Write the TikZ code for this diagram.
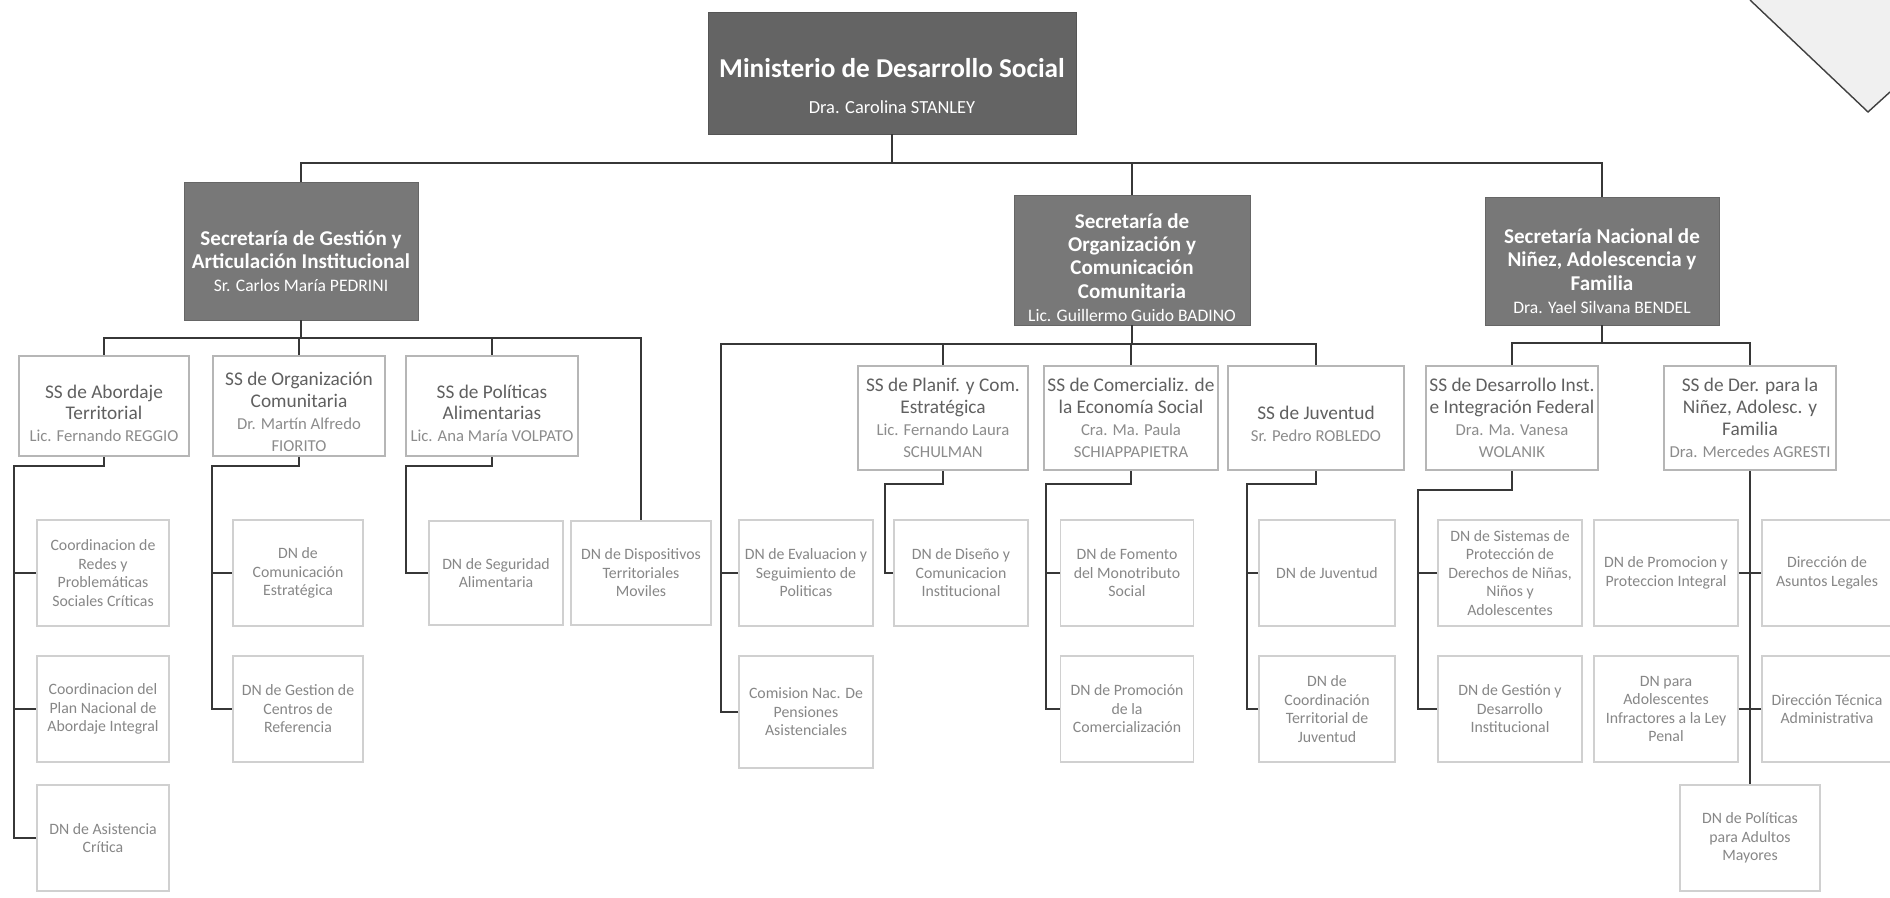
\documentclass[tikz,border=0pt]{standalone}
\usepackage{fontspec}
\setmainfont{Carlito}

\definecolor{minfill}{RGB}{100,100,100}
\definecolor{secfill}{RGB}{120,120,120}
\definecolor{ssline}{RGB}{182,182,182}
\definecolor{dnline}{RGB}{208,208,208}
\definecolor{sstext}{RGB}{96,96,96}
\definecolor{nametext}{RGB}{140,140,140}
\definecolor{dntext}{RGB}{135,135,135}
\definecolor{linkgray}{RGB}{55,55,55}

\newcommand{\cargo}[1]{{\fontsize{9.5}{12}\selectfont\color{nametext}#1}}
\newcommand{\secname}[1]{{\fontsize{10}{13}\selectfont\mdseries #1}}
\newcommand{\bajar}[1]{\rule{0pt}{#1}}

\tikzset{
  wh/.style 2 args={minimum width=#1*0.02cm, minimum height=#2*0.02cm},
  minbox/.style={rectangle, fill=minfill, draw=minfill!85!black, text=white, align=center, inner sep=1pt, font=\fontsize{15.5}{20.5}\selectfont\bfseries},
  secbox/.style={rectangle, fill=secfill, draw=secfill!85!black, text=white, align=center, inner sep=1pt, font=\fontsize{12}{13.2}\selectfont\bfseries},
  ssbox/.style={rectangle, draw=ssline, line width=1.4pt, fill=white, text=sstext, align=center, inner sep=1pt, font=\fontsize{11}{12.5}\selectfont},
  dnbox/.style={rectangle, draw=dnline, line width=0.8pt, fill=white, text=dntext, align=center, inner sep=1pt, font=\fontsize{9}{10.5}\selectfont},
  link/.style={draw=linkgray, line width=0.8pt},
}

\begin{document}
\begin{tikzpicture}[x=0.02cm, y=-0.02cm]%
\useasboundingbox (0,0) rectangle (1890,898);%
\fill[black!6] (1750,0) -- (1868,112) -- (1890,92) -- (1890,0) -- cycle;%
\draw[black!75, line width=0.8pt] (1750,0) -- (1868,112) -- (1890,92);%
\node[minbox, wh={368}{122}] (min) at (892,73) {\bajar{26pt}Ministerio de Desarrollo Social\\{\fontsize{10.5}{13}\selectfont\mdseries Dra. Carolina STANLEY}};%
\node[secbox, wh={234}{138}] (sga) at (301,251) {\bajar{20pt}Secretaría de Gestión y\\Articulación Institucional\\\secname{Sr. Carlos María PEDRINI}};%
\node[secbox, wh={236}{130}] (soc) at (1132,260) {\bajar{17pt}Secretaría de\\Organización y\\Comunicación\\Comunitaria\\\secname{Lic. Guillermo Guido BADINO}};%
\node[secbox, wh={234}{128}] (snf) at (1602,261) {\bajar{20pt}Secretaría Nacional de\\Niñez, Adolescencia y\\Familia\\\secname{Dra. Yael Silvana BENDEL}};%
\node[ssbox, wh={170}{100}] (a1) at (104,406) {\bajar{16pt}SS de Abordaje\\Territorial\\\cargo{Lic. Fernando REGGIO}};%
\node[ssbox, wh={172}{100}] (a2) at (299,406) {\bajar{14pt}SS de Organización\\Comunitaria\\\cargo{Dr. Martín Alfredo}\\\cargo{FIORITO}};%
\node[ssbox, wh={172}{100}] (a3) at (492,406) {\bajar{16pt}SS de Políticas\\Alimentarias\\\cargo{Lic. Ana María VOLPATO}};%
\node[dnbox, wh={140}{104}] (a4) at (641,573) {DN de Dispositivos\\Territoriales\\Moviles};%
\node[dnbox, wh={132}{106}] (a1a) at (103,573) {Coordinacion de\\Redes y\\Problemáticas\\Sociales Críticas};%
\node[dnbox, wh={132}{106}] (a1b) at (103,709) {Coordinacion del\\Plan Nacional de\\Abordaje Integral};%
\node[dnbox, wh={132}{106}] (a1c) at (103,838) {DN de Asistencia\\Crítica};%
\node[dnbox, wh={130}{106}] (a2a) at (298,573) {DN de\\Comunicación\\Estratégica};%
\node[dnbox, wh={130}{106}] (a2b) at (298,709) {DN de Gestion de\\Centros de\\Referencia};%
\node[dnbox, wh={134}{104}] (a3a) at (496,573) {DN de Seguridad\\Alimentaria};%
\node[ssbox, wh={170}{104}] (b1) at (943,418) {SS de Planif. y Com.\\Estratégica\\\cargo{Lic. Fernando Laura}\\\cargo{SCHULMAN}};%
\node[ssbox, wh={174}{104}] (b2) at (1131,418) {SS de Comercializ. de\\la Economía Social\\\cargo{Cra. Ma. Paula}\\\cargo{SCHIAPPAPIETRA}};%
\node[ssbox, wh={176}{104}] (b3) at (1316,418) {\bajar{14pt}SS de Juventud\\\cargo{Sr. Pedro ROBLEDO}};%
\node[dnbox, wh={134}{106}] (b0a) at (806,573) {DN de Evaluacion y\\Seguimiento de\\Politicas};%
\node[dnbox, wh={134}{112}] (b0b) at (806,712) {Comision Nac. De\\Pensiones\\Asistenciales};%
\node[dnbox, wh={134}{106}] (b1a) at (961,573) {DN de Diseño y\\Comunicacion\\Institucional};%
\node[dnbox, wh={133}{106}] (b2a) at (1127,573) {DN de Fomento\\del Monotributo\\Social};%
\node[dnbox, wh={133}{106}] (b2b) at (1127,709) {DN de Promoción\\de la\\Comercialización};%
\node[dnbox, wh={136}{106}] (b3a) at (1327,573) {DN de Juventud};%
\node[dnbox, wh={136}{106}] (b3b) at (1327,709) {DN de\\Coordinación\\Territorial de\\Juventud};%
\node[ssbox, wh={172}{104}] (c1) at (1512,418) {SS de Desarrollo Inst.\\e Integración Federal\\\cargo{Dra. Ma. Vanesa}\\\cargo{WOLANIK}};%
\node[ssbox, wh={172}{104}] (c2) at (1750,418) {SS de Der. para la\\Niñez, Adolesc. y\\Familia\\\cargo{Dra. Mercedes AGRESTI}};%
\node[dnbox, wh={144}{106}] (c1a) at (1510,573) {DN de Sistemas de\\Protección de\\Derechos de Niñas,\\Niños y\\Adolescentes};%
\node[dnbox, wh={144}{106}] (c1b) at (1510,709) {DN de Gestión y\\Desarrollo\\Institucional};%
\node[dnbox, wh={144}{106}] (c2a) at (1666,573) {DN de Promocion y\\Proteccion Integral};%
\node[dnbox, wh={144}{106}] (c2b) at (1666,709) {DN para\\Adolescentes\\Infractores a la Ley\\Penal};%
\node[dnbox, wh={130}{106}] (c2c) at (1827,573) {Dirección de\\Asuntos Legales};%
\node[dnbox, wh={130}{106}] (c2d) at (1827,709) {Dirección Técnica\\Administrativa};%
\node[dnbox, wh={140}{106}] (c2e) at (1750,838) {DN de Políticas\\para Adultos\\Mayores};%
\coordinate (top) at (892,163);%
\draw[link] (min.south) -- (top);%
\draw[link] (sga.north) |- (top) -| (snf.north);%
\draw[link] (soc.north) -- (soc.north |- top);%
\coordinate (bA) at (301,338);%
\draw[link] (sga.south) -- (bA);%
\draw[link] (a1.north) |- (bA) -| (a4.north);%
\draw[link] (a2.north) -- (a2.north |- bA);%
\draw[link] (a3.north) -- (a3.north |- bA);%
\coordinate (a1k) at (14,466);%
\draw[link] (a1.south) |- (a1k) |- (a1c.west);%
\draw[link] (a1k) |- (a1a.west);%
\draw[link] (a1k) |- (a1b.west);%
\coordinate (a2k) at (212,466);%
\draw[link] (a2.south) |- (a2k) |- (a2b.west);%
\draw[link] (a2k) |- (a2a.west);%
\coordinate (a3k) at (406,466);%
\draw[link] (a3.south) |- (a3k) |- (a3a.west);%
\coordinate (bB) at (1132,344);%
\coordinate (b0k) at (721,344);%
\draw[link] (soc.south) -- (bB);%
\draw[link] (b0b.west) -| (b0k) -| (b3.north);%
\draw[link] (b0k) |- (b0a.west);%
\draw[link] (b1.north) -- (b1.north |- bB);%
\draw[link] (b2.north) -- (b2.north |- bB);%
\coordinate (b1k) at (885,484);%
\draw[link] (b1.south) |- (b1k) |- (b1a.west);%
\coordinate (b2k) at (1046,484);%
\draw[link] (b2.south) |- (b2k) |- (b2b.west);%
\draw[link] (b2k) |- (b2a.west);%
\coordinate (b3k) at (1247,484);%
\draw[link] (b3.south) |- (b3k) |- (b3b.west);%
\draw[link] (b3k) |- (b3a.west);%
\coordinate (bC) at (1602,343);%
\draw[link] (snf.south) -- (bC);%
\draw[link] (c1.north) |- (bC) -| (c2.north);%
\coordinate (c1k) at (1418,490);%
\draw[link] (c1.south) |- (c1k) |- (c1b.west);%
\draw[link] (c1k) |- (c1a.west);%
\draw[link] (c2.south) -- (c2e.north);%
\draw[link] (c2a.east) -- (c2a.east -| c2.south);%
\draw[link] (c2b.east) -- (c2b.east -| c2.south);%
\draw[link] (c2c.west) -- (c2c.west -| c2.south);%
\draw[link] (c2d.west) -- (c2d.west -| c2.south);%
\end{tikzpicture}
\end{document}
